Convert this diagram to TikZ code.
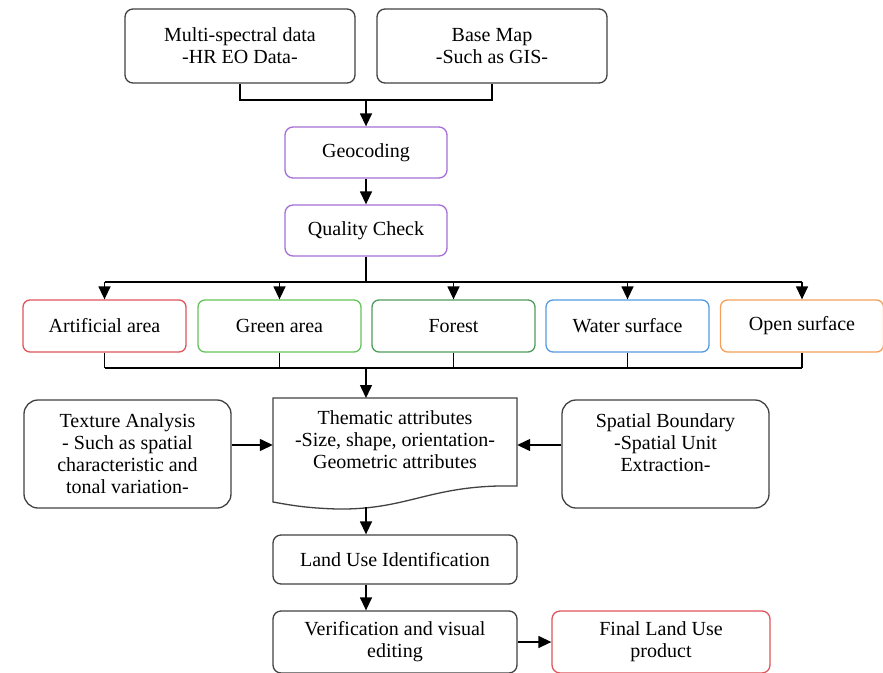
\documentclass[tikz,border=0pt]{standalone}
\usepackage{fontspec}
\setmainfont{Liberation Serif}
\usetikzlibrary{arrows.meta}
\definecolor{boxgray}{RGB}{65,65,65}
\definecolor{geopurple}{RGB}{165,110,215}
\definecolor{artred}{RGB}{222,85,92}
\definecolor{grnarea}{RGB}{100,195,90}
\definecolor{forestgrn}{RGB}{80,155,90}
\definecolor{waterblue}{RGB}{85,155,225}
\definecolor{openorange}{RGB}{245,160,90}

\begin{document}
\begin{tikzpicture}[x=1pt,y=-1pt,
  box/.style={draw=boxgray,line width=1.3pt,rounded corners=8pt,align=center,
    inner sep=0pt,font=\fontsize{20}{22}\selectfont},
  cls/.style={box,minimum width=163,minimum height=52,rounded corners=7pt},
  arr/.style={-{Triangle[width=12pt,length=13pt]},line width=1.4pt},
  ln/.style={line width=1.4pt}]
\useasboundingbox (0,0) rectangle (883,672);

% inputs
\node[box,minimum width=230,minimum height=74] (msd) at (240,46) {Multi-spectral data\\-HR EO Data-};
\node[box,minimum width=230,minimum height=74] (bmap) at (492,46) {Base Map\\-Such as GIS-};
\coordinate (topjoin) at (366,100);
\draw[ln] (msd.south) |- (topjoin) -| (bmap.south);

\node[box,draw=geopurple,minimum width=162,minimum height=51] (geo) at (366,152.5) {Geocoding};
\node[box,draw=geopurple,minimum width=162,minimum height=51] (qc) at (366,230.5) {Quality Check};
\draw[arr] (topjoin) -- (geo.north);
\draw[arr] (geo.south) -- (qc.north);

% classes
\node[cls,draw=artred] (art) at (104.5,326) {Artificial area};
\node[cls,draw=grnarea] (green) at (279.5,326) {Green area};
\node[cls,draw=forestgrn] (forest) at (453.5,326) {Forest};
\node[cls,draw=waterblue] (water) at (627.5,326) {Water surface};
\node[cls,draw=openorange] (open) at (802,326) {Open surface};

\coordinate (busA) at (366,282);
\coordinate (busB) at (366,368);
\draw[ln] (qc.south) -- (busA);
\draw[ln] (art |- busA) -- (open |- busA);
\draw[ln] (art |- busB) -- (open |- busB);
\foreach \n in {art,green,forest,water,open}{
  \draw[arr] (\n |- busA) -- (\n.north);
  \draw[ln] (\n.south) -- (\n |- busB);
}

% attributes
\node[align=center,inner sep=0pt,minimum width=244,font=\fontsize{20}{22}\selectfont] (them) at (395,440)
  {Thematic attributes\\-Size, shape, orientation-\\Geometric attributes};
\draw[draw=boxgray,line width=1.3pt] (273,398) -- (517,398) -- (517,486)
  .. controls (430,484) and (410,510) .. (337,509)
  .. controls (305,508) and (290,505) .. (273,502) -- cycle;
\coordinate (thbot) at (366,507);
\draw[arr] (busB) -- (busB |- 0,398);

\node[box,rounded corners=14pt,minimum width=207,minimum height=108] (tex) at (127.5,454)
  {Texture Analysis\\- Such as spatial\\characteristic and\\tonal variation-};
\node[box,rounded corners=14pt,minimum width=207,minimum height=108] (spb) at (665.5,454)
  {Spatial Boundary\\-Spatial Unit\\Extraction-\\\mbox{}};
\draw[arr] ([yshift=9pt]tex.east) -- ([yshift=9pt]tex.east -| them.west);
\draw[arr] ([yshift=9pt]spb.west) -- ([yshift=9pt]spb.west -| them.east);

% output
\node[box,minimum width=244,minimum height=49] (luse) at (395,559.5) {Land Use Identification};
\node[box,minimum width=244,minimum height=62] (verif) at (395,642) {Verification and visual\\editing};
\node[box,draw=artred,minimum width=218,minimum height=62] (final) at (661,642) {Final Land Use\\product};
\draw[arr] (thbot) -- (thbot |- luse.north);
\draw[arr] (thbot |- luse.south) -- (thbot |- verif.north);
\draw[arr] (verif.east) -- (final.west);
\end{tikzpicture}
\end{document}
